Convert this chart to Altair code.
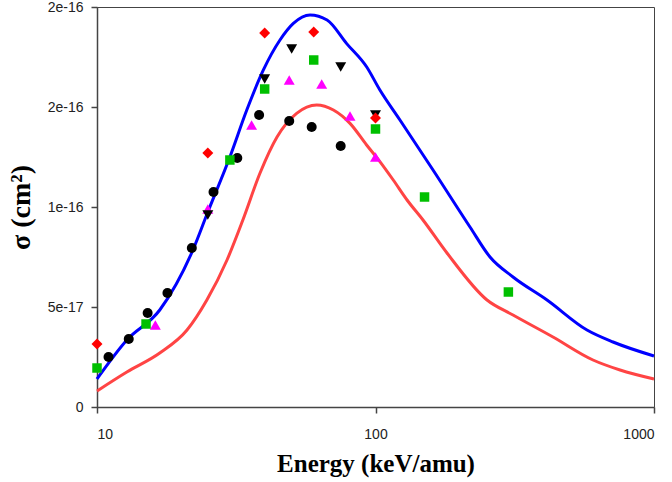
import altair as alt
import pandas as pd

# ---- data (energy in keV/amu, cross section in units of 1e-16 cm^2) ----
blue_E = [10, 12.8, 16.8, 22.1, 25.0, 30.0, 34.5, 39.5, 45.4, 50.7, 58.2, 67.0, 78.8, 93.0,
          103.7, 122.4, 160.9, 218.4, 257.7, 311.7, 412.9, 574.6, 712.6, 1000]
blue_S = [0.14, 0.335, 0.485, 0.785, 0.975, 1.25, 1.485, 1.683, 1.835, 1.918, 1.96, 1.935, 1.817, 1.70,
          1.585, 1.435, 1.185, 0.90, 0.75, 0.65, 0.535, 0.385, 0.325, 0.255]

red_E = [10, 12.8, 16.8, 21.05, 24.8, 29.3, 33.4, 38.5, 44.3, 52.1, 61.5, 70.6, 81.0, 92.9,
         103.7, 115.8, 129.8, 148.1, 180.6, 251.4, 311.7, 433.8, 603.9, 755.2, 1000]
red_S = [0.08, 0.175, 0.27, 0.385, 0.535, 0.735, 0.935, 1.17, 1.35, 1.468, 1.51, 1.485, 1.418, 1.31,
         1.227, 1.135, 1.035, 0.935, 0.77, 0.535, 0.46, 0.35, 0.235, 0.185, 0.14]

circ_E = [11.0, 13.0, 15.2, 17.9, 21.9, 26.2, 31.9, 38.2, 49.0, 59.0, 75.0]
circ_S = [0.25, 0.34, 0.47, 0.57, 0.795, 1.075, 1.245, 1.46, 1.43, 1.40, 1.305]

tdown_E = [25, 40, 50, 75, 100]
tdown_S = [0.96, 1.64, 1.79, 1.70, 1.46]

tup_E = [16.2, 25, 35.9, 49, 64.1, 81, 100]
tup_S = [0.41, 0.99, 1.41, 1.635, 1.615, 1.455, 1.25]

sq_E = [10, 15, 30, 40, 60, 100, 150, 300]
sq_S = [0.195, 0.415, 1.235, 1.59, 1.735, 1.39, 1.05, 0.575]

dia_E = [10, 25, 40, 60, 100]
dia_S = [0.315, 1.27, 1.87, 1.875, 1.445]

UNIT = 1e-16


def table(E, S):
    return pd.DataFrame({"E": E, "S": [s * UNIT for s in S]})


x_enc = alt.X("E:Q",
              scale=alt.Scale(type="log", domain=[10, 1000], nice=False),
              axis=alt.Axis(values=[10, 100, 1000], format="d",
                            title="Energy (keV/amu)"))
y_enc = alt.Y("S:Q",
              scale=alt.Scale(domain=[0, 2e-16], nice=False, zero=True),
              axis=alt.Axis(values=[0, 5e-17, 1e-16, 1.5e-16, 2e-16],
                            labelExpr="datum.value == 0 ? '0' : format(datum.value * 1.0000001, '.0e')",
                            title="σ (cm²)"))


def line(E, S, color):
    return alt.Chart(table(E, S)).mark_line(
        color=color, strokeWidth=3, interpolate="monotone"
    ).encode(x=x_enc, y=y_enc)


def pts(E, S, shape, color, size):
    return alt.Chart(table(E, S)).mark_point(
        shape=shape, filled=True, color=color, size=size, opacity=1
    ).encode(x=x_enc, y=y_enc)


chart = alt.layer(
    line(red_E, red_S, "#FF4444"),
    line(blue_E, blue_S, "#0000FF"),
    pts(circ_E, circ_S, "circle", "#000000", 100),
    pts(tup_E, tup_S, "triangle-up", "#FF00FF", 120),
    pts(tdown_E, tdown_S, "triangle-down", "#000000", 120),
    pts(sq_E, sq_S, "square", "#00C000", 90),
    pts(dia_E, dia_S, "diamond", "#FF0000", 120),
).properties(
    width=557, height=400,
    background="white",
    autosize=alt.AutoSizeParams(type="none"),
    padding={"left": 97, "top": 7, "right": 18, "bottom": 75},
).configure_view(
    stroke="#444444", strokeWidth=1
).configure_axis(
    grid=False,
    domainColor="#444444", domainWidth=1.5,
    tickColor="#444444", tickSize=6, tickWidth=1.5,
    labelFont="Liberation Sans", labelFontSize=14, labelColor="#222222",
    titleFont="Liberation Serif", titleFontWeight="bold",
    titleColor="#000000",
).configure_axisX(
    labelPadding=14, titlePadding=10, titleFontSize=25
).configure_axisY(
    labelPadding=8, titlePadding=12, titleFontSize=28
)

chart.save("out.html", embed_options={"renderer": "svg", "actions": False})
